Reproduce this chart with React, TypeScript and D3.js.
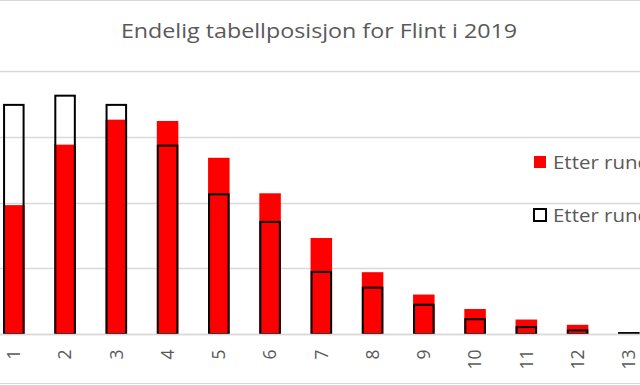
import React, { useEffect, useRef } from 'react';
import * as d3 from 'd3';

// final table position (1-13), share in percent
const categories = ['1', '2', '3', '4', '5', '6', '7', '8', '9', '10', '11', '12', '13'];
const etterRundeA = [9.8, 14.4, 16.3, 16.2, 13.4, 10.7, 7.3, 4.7, 3.0, 1.9, 1.1, 0.7, 0];
const etterRundeB = [17.5, 18.2, 17.5, 14.4, 10.7, 8.6, 4.8, 3.6, 2.3, 1.2, 0.6, 0.35, 0.15];
const yTicks = [0, 5, 10, 15, 20];
const legendLabels = ['Etter runde 20', 'Etter runde 19'];
const title = 'Endelig tabellposisjon for Flint i 2019';

const App = () => {
  const svgRef = useRef<SVGSVGElement>(null);

  useEffect(() => {
    const width = 640;
    const height = 385;
    const font = "'Open Sans', 'Liberation Sans', sans-serif";
    const grey = '#595959';
    const gridColor = '#d9d9d9';

    const svg = d3.select(svgRef.current);
    svg.selectAll('*').remove();
    svg.attr('width', width).attr('height', height).attr('viewBox', `0 0 ${width} ${height}`);

    svg.append('rect').attr('width', width).attr('height', height).attr('fill', '#fff');

    // chart border (top / bottom edges are all that shows)
    svg.append('line').attr('x1', 0).attr('x2', width).attr('y1', 0.5).attr('y2', 0.5)
      .attr('stroke', gridColor);
    svg.append('line').attr('x1', 0).attr('x2', width).attr('y1', 383.5).attr('y2', 383.5)
      .attr('stroke', gridColor);

    const step = 51.25;
    const x0 = -11.8;
    const x = d3.scaleBand<string>()
      .domain(categories)
      .range([x0, x0 + step * categories.length])
      .paddingInner(0.58)
      .paddingOuter(0.29);

    const y = d3.scaleLinear().domain([0, 20]).range([334, 71]);

    // gridlines
    svg.append('g')
      .selectAll('line')
      .data(yTicks)
      .enter()
      .append('line')
      .attr('x1', 0)
      .attr('x2', width)
      .attr('y1', d => Math.round(y(d)) + 0.5)
      .attr('y2', d => Math.round(y(d)) + 0.5)
      .attr('stroke', gridColor)
      .attr('stroke-width', 1.3);

    const bw = x.bandwidth();

    // red series
    svg.append('g')
      .selectAll('rect')
      .data(etterRundeA)
      .enter()
      .append('rect')
      .attr('x', (d, i) => x(categories[i])!)
      .attr('y', d => y(d))
      .attr('width', bw)
      .attr('height', d => y(0) - y(d))
      .attr('fill', '#ff0000');

    // outlined series, drawn on top
    svg.append('g')
      .selectAll('rect')
      .data(etterRundeB)
      .enter()
      .append('rect')
      .attr('x', (d, i) => x(categories[i])! + 1)
      .attr('y', d => y(d) + 1)
      .attr('width', bw - 2)
      .attr('height', d => Math.max(0, y(0) - y(d) - 1))
      .attr('fill', 'none')
      .attr('stroke', '#000')
      .attr('stroke-width', 2);

    // category axis
    svg.append('line').attr('x1', 0).attr('x2', width).attr('y1', 334.5).attr('y2', 334.5)
      .attr('stroke', gridColor).attr('stroke-width', 1.3);

    svg.append('g')
      .selectAll('text')
      .data(categories)
      .enter()
      .append('text')
      .attr('transform', d => `translate(${x(d)! + bw / 2}, 349.5) rotate(-90)`)
      .attr('text-anchor', 'end')
      .attr('dy', '0.36em')
      .style('font-family', font)
      .style('font-size', '17.5px')
      .attr('fill', grey)
      .text(d => d);

    // title (source picture is a little stretched sideways)
    svg.append('text')
      .attr('transform', 'translate(319, 37.5) scale(1.135, 1)')
      .attr('text-anchor', 'middle')
      .style('font-family', font)
      .style('font-size', '20.5px')
      .attr('fill', grey)
      .text(title);

    // legend
    const legend = svg.append('g');
    legend.append('rect')
      .attr('x', 534).attr('y', 156).attr('width', 12).attr('height', 12)
      .attr('fill', '#ff0000');
    legend.append('rect')
      .attr('x', 534).attr('y', 209).attr('width', 12).attr('height', 12)
      .attr('fill', 'none').attr('stroke', '#000').attr('stroke-width', 2);
    legend.selectAll('text')
      .data(legendLabels)
      .enter()
      .append('text')
      .attr('transform', (d, i) => `translate(553, ${i === 0 ? 169 : 221.5}) scale(1.15, 1)`)
      .style('font-family', font)
      .style('font-size', '17.8px')
      .attr('fill', grey)
      .text(d => d);
  }, []);

  return (
    <div style={{ position: 'absolute', left: 0, top: 0, width: 640, height: 385, overflow: 'hidden' }}>
      <svg ref={svgRef} style={{ display: 'block' }} />
    </div>
  );
};

export default App;
